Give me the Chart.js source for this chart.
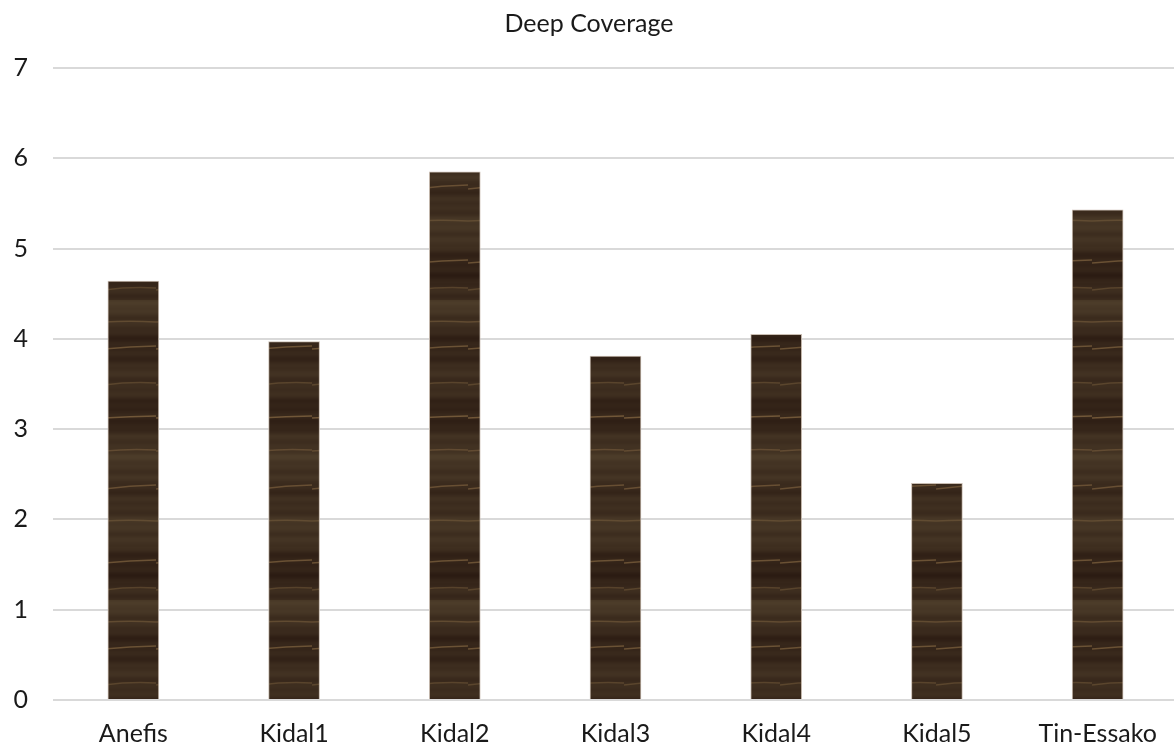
<!DOCTYPE html>
<html>
<head>
<meta charset="utf-8">
<script src="https://cdn.jsdelivr.net/npm/chart.js@4/dist/chart.umd.min.js"></script>
<style>
html,body{margin:0;padding:0;background:#fff;overflow:hidden;}
#wrap{width:1178px;height:749px;position:relative;}
</style>
</head>
<body>
<div id="wrap"><canvas id="c"></canvas></div>
<script>
const categories = ["Anefis","Kidal1","Kidal2","Kidal3","Kidal4","Kidal5","Tin-Essako"];
const coverage = [4.64, 3.97, 5.85, 3.81, 4.05, 2.40, 5.43];
const titleText = "Deep Coverage";

// wood-grain pattern (style only, deterministic)
function woodPattern(){
  const pc = document.createElement('canvas');
  pc.width = 52; pc.height = 300;
  const g = pc.getContext('2d');
  g.fillStyle = '#3a2a1d';
  g.fillRect(0,0,pc.width,pc.height);
  for (let y = 0; y < pc.height; y++) {
    const v = Math.sin(y*0.29) * 0.5 + Math.sin(y*0.083+1.3) + Math.sin(y*0.031+2.1) * 0.7 + Math.sin(y*0.61+0.4)*0.4;
    const l = Math.round(v*7);
    g.fillStyle = 'rgb(' + (60+l) + ',' + (44+l) + ',' + (30+Math.round(l*0.7)) + ')';
    g.fillRect(0,y,pc.width,1);
  }
  const streaks = [[22,0.35],[48,0.5],[83,0.3],[118,0.55],[150,0.35],[187,0.45],[221,0.3],[262,0.5],[288,0.3]];
  streaks.forEach(([y,a],i)=>{
    g.strokeStyle = 'rgba(160,125,80,' + a + ')';
    g.lineWidth = 1.6;
    g.beginPath();
    g.moveTo(0, y + (i%3));
    g.quadraticCurveTo(26, y - 1.5, 52, y - (i%2)*2);
    g.stroke();
  });
  return g.createPattern(pc, 'repeat');
}

const FONT = "Lato, 'Open Sans', sans-serif";
new Chart(document.getElementById('c'), {
  type: 'bar',
  data: {
    labels: categories,
    datasets: [{
      label: titleText,
      data: coverage,
      backgroundColor: woodPattern(),
      borderColor: '#c9bdb2',
      borderWidth: 1,
      barThickness: 51
    }]
  },
  options: {
    responsive: true,
    maintainAspectRatio: false,
    animation: false,
    layout: { padding: 0 },
    plugins: {
      legend: { display: false },
      tooltip: { enabled: false },
      title: {
        display: true,
        text: titleText,
        color: '#1a1a1a',
        font: { family: FONT, size: 25, weight: 'normal', lineHeight: 1.2 },
        padding: { top: 9, bottom: 29 }
      }
    },
    scales: {
      x: {
        afterFit: s => { s.height = 49; },
        grid: { display: false, drawTicks: false },
        border: { display: false },
        ticks: { color: '#1a1a1a', font: { family: FONT, size: 25 }, padding: 19, maxRotation: 0, autoSkip: false }
      },
      y: {
        min: 0, max: 7,
        afterFit: s => { s.width = 53; },
        grid: { color: '#d9d9d9', lineWidth: 2, drawTicks: false },
        border: { display: false },
        ticks: { stepSize: 1, color: '#1a1a1a', font: { family: FONT, size: 25 }, padding: 25 }
      }
    }
  }
});
</script>
</body>
</html>
